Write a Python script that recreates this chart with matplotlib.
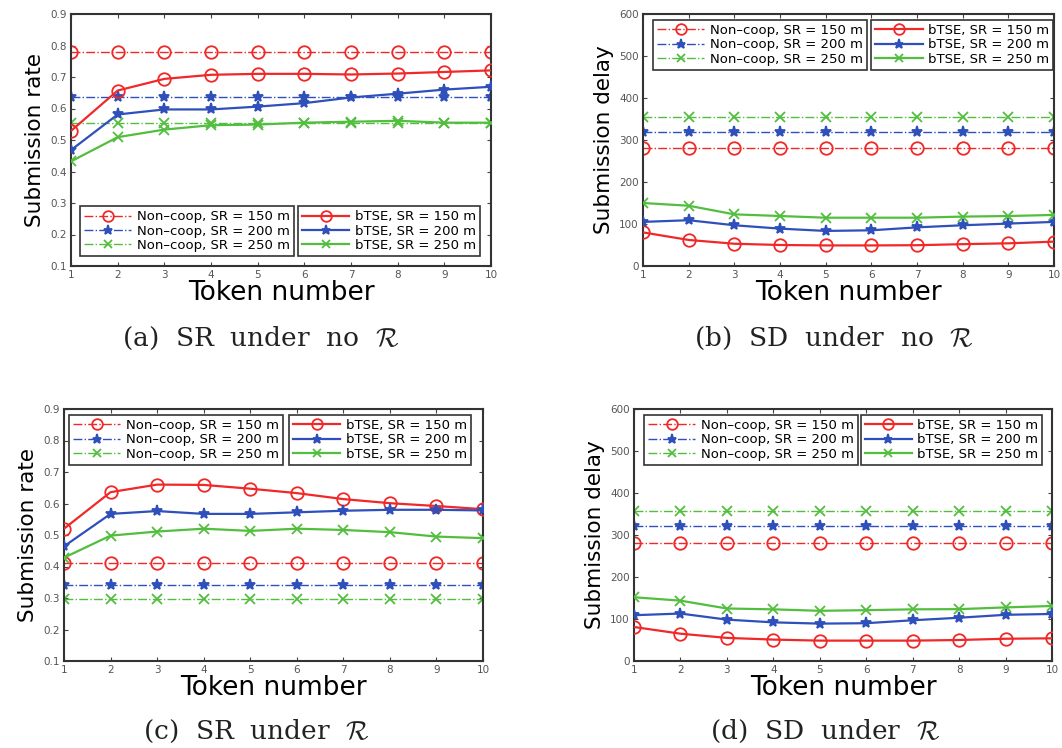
import matplotlib
matplotlib.use("Agg")
import matplotlib.pyplot as plt

plt.rcParams['font.family'] = ['DejaVu Sans']
plt.rcParams['mathtext.fontset'] = 'cm'

tokens = [1, 2, 3, 4, 5, 6, 7, 8, 9, 10]

# (a) SR under no R
a_noncoop_150 = [0.78] * 10
a_noncoop_200 = [0.638] * 10
a_noncoop_250 = [0.555] * 10
a_btse_150 = [0.529, 0.657, 0.694, 0.707, 0.710, 0.710, 0.708, 0.711, 0.716, 0.721]
a_btse_200 = [0.468, 0.581, 0.597, 0.597, 0.606, 0.617, 0.635, 0.647, 0.660, 0.669]
a_btse_250 = [0.432, 0.509, 0.533, 0.547, 0.549, 0.555, 0.558, 0.561, 0.555, 0.555]

# (b) SD under no R
b_noncoop_150 = [281] * 10
b_noncoop_200 = [320] * 10
b_noncoop_250 = [354] * 10
b_btse_150 = [80, 62, 53, 50, 49, 49, 49.5, 52, 54, 58]
b_btse_200 = [105, 109, 97, 89, 83.5, 85, 92, 97, 101, 105]
b_btse_250 = [150, 143.5, 123, 119, 115, 115, 115, 117.6, 119, 121.6]

# (c) SR under R
c_noncoop_150 = [0.41] * 10
c_noncoop_200 = [0.34] * 10
c_noncoop_250 = [0.297] * 10
c_btse_150 = [0.52, 0.636, 0.660, 0.659, 0.647, 0.633, 0.614, 0.601, 0.592, 0.582]
c_btse_200 = [0.464, 0.567, 0.576, 0.567, 0.567, 0.572, 0.577, 0.580, 0.580, 0.578]
c_btse_250 = [0.428, 0.498, 0.511, 0.520, 0.513, 0.520, 0.516, 0.509, 0.495, 0.490]

# (d) SD under R
d_noncoop_150 = [281] * 10
d_noncoop_200 = [321] * 10
d_noncoop_250 = [357] * 10
d_btse_150 = [81, 65, 55, 51, 48.5, 48.5, 48.5, 50, 53, 54]
d_btse_200 = [109, 113, 98.5, 92, 89, 90, 97, 103, 110, 112]
d_btse_250 = [151.8, 143.7, 125, 123, 119.5, 121, 123, 123.5, 127.6, 131]

noncoop_labels = ['Non–coop, SR = 150 m', 'Non–coop, SR = 200 m', 'Non–coop, SR = 250 m']
btse_labels = ['bTSE, SR = 150 m', 'bTSE, SR = 200 m', 'bTSE, SR = 250 m']
captions = [r'(a)  SR  under  no  $\mathcal{R}$', r'(b)  SD  under  no  $\mathcal{R}$',
            r'(c)  SR  under  $\mathcal{R}$', r'(d)  SD  under  $\mathcal{R}$']

RED = '#f02828'
BLUE = '#2f4fba'
GREEN = '#52be3e'
colors = [RED, BLUE, GREEN]
markers = ['o', '*', 'x']
msizes = [9, 8, 7]

fig = plt.figure(figsize=(10.62, 7.48), dpi=100)

W, H = 1062, 748

def ax_at(l, t, r, b):
    return fig.add_axes([l / W, 1 - b / H, (r - l) / W, (b - t) / H])

axes_boxes = [(71, 14, 491, 266), (643, 14, 1054, 266),
              (64, 409, 483, 661), (634, 409, 1052, 661)]

panels = [
    (a_noncoop_150, a_noncoop_200, a_noncoop_250, a_btse_150, a_btse_200, a_btse_250, 'rate'),
    (b_noncoop_150, b_noncoop_200, b_noncoop_250, b_btse_150, b_btse_200, b_btse_250, 'delay'),
    (c_noncoop_150, c_noncoop_200, c_noncoop_250, c_btse_150, c_btse_200, c_btse_250, 'rate'),
    (d_noncoop_150, d_noncoop_200, d_noncoop_250, d_btse_150, d_btse_200, d_btse_250, 'delay'),
]

legend_pos = [
    (('lower left', (0.021, 0.04)), ('lower left', (0.54, 0.04))),
    (('upper left', (0.024, 0.976)), ('upper left', (0.555, 0.976))),
    (('upper left', (0.012, 0.976)), ('upper left', (0.537, 0.976))),
    (('upper left', (0.024, 0.976)), ('upper left', (0.542, 0.976))),
]

caption_pos = [(261, 338), (834, 338), (256, 731), (825, 731)]

for i, (box, panel) in enumerate(zip(axes_boxes, panels)):
    ax = ax_at(*box)
    nc = panel[0:3]
    bt = panel[3:6]
    kind = panel[6]
    nc_handles = []
    bt_handles = []
    for j in range(3):
        mfc = 'none' if markers[j] == 'o' else colors[j]
        h, = ax.plot(tokens, nc[j], linestyle='-.', color=colors[j], lw=1.0,
                     marker=markers[j], markersize=msizes[j], mfc=mfc,
                     mec=colors[j], mew=1.3, label=noncoop_labels[j], zorder=2)
        nc_handles.append(h)
    for j in range(3):
        mfc = 'none' if markers[j] == 'o' else colors[j]
        h, = ax.plot(tokens, bt[j], linestyle='-', color=colors[j], lw=1.6,
                     marker=markers[j], markersize=msizes[j], mfc=mfc,
                     mec=colors[j], mew=1.3, label=btse_labels[j], zorder=3)
        bt_handles.append(h)
    ax.set_xlim(1, 10)
    ax.set_xticks(tokens)
    if kind == 'rate':
        ax.set_ylim(0.1, 0.9)
        yt = [0.1, 0.2, 0.3, 0.4, 0.5, 0.6, 0.7, 0.8, 0.9]
        ax.set_yticks(yt)
        ax.set_yticklabels(['%.1f' % v for v in yt])
        ax.set_ylabel('Submission rate', fontsize=15.5, labelpad=4)
    else:
        ax.set_ylim(0, 600)
        ax.set_yticks([0, 100, 200, 300, 400, 500, 600])
        ax.set_ylabel('Submission delay', fontsize=15.5, labelpad=4)
    ax.set_xlabel('Token number', fontsize=19, labelpad=0)
    ax.tick_params(direction='in', top=True, right=True, length=3, width=0.8,
                   labelsize=7.5, labelcolor='#555555', color='#444444', pad=3)
    for s in ax.spines.values():
        s.set_color('#333333')
        s.set_linewidth(1.5)
    (loc1, anc1), (loc2, anc2) = legend_pos[i]
    leg_kw = dict(fontsize=9.5, handlelength=3.6, labelspacing=0.1, borderpad=0.3,
                  handletextpad=0.4, fancybox=False, edgecolor='#333333',
                  framealpha=1, borderaxespad=0, markerscale=0.85)
    l1 = ax.legend(handles=nc_handles, loc=loc1, bbox_to_anchor=anc1, **leg_kw)
    l1.get_frame().set_linewidth(1.2)
    ax.add_artist(l1)
    l2 = ax.legend(handles=bt_handles, loc=loc2, bbox_to_anchor=anc2, **leg_kw)
    l2.get_frame().set_linewidth(1.2)
    cx, cy = caption_pos[i]
    fig.text(cx / W, 1 - cy / H, captions[i], ha='center', va='center',
             fontsize=19, family='DejaVu Serif', color='#222222')

fig.savefig('out.png', dpi=100)
